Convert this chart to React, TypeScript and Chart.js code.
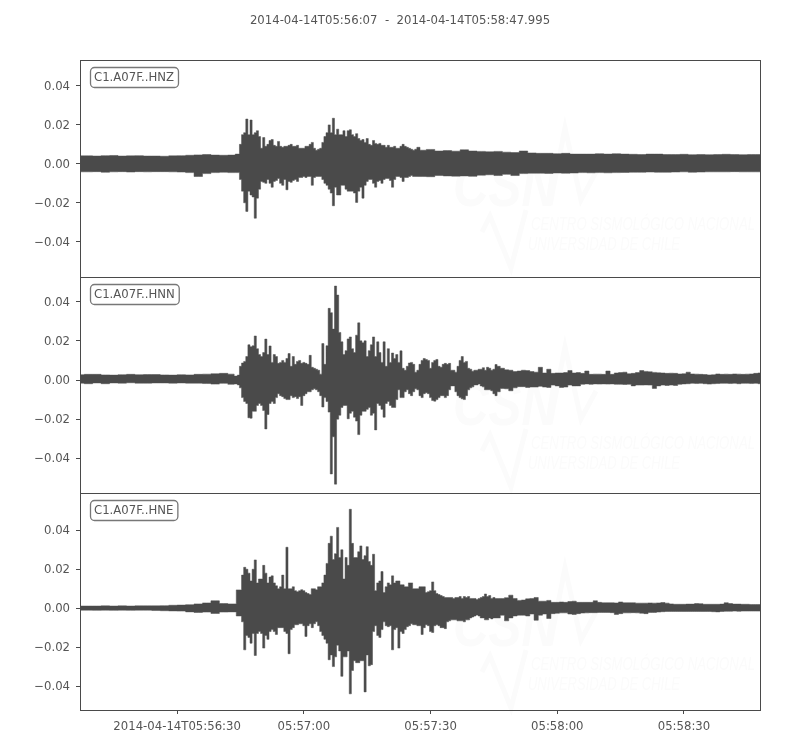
import React, { useEffect, useRef } from "react";
import { Chart, registerables } from "chart.js";

Chart.register(...registerables);

const titleText = "2014-04-14T05:56:07  -  2014-04-14T05:58:47.995";
const stations = ["C1.A07F..HNZ", "C1.A07F..HNN", "C1.A07F..HNE"];
const tickSeconds = [23, 53, 83, 113, 143];
const tickLabels = ["2014-04-14T05:56:30", "05:57:00", "05:57:30", "05:58:00", "05:58:30"];
const yTicks = [-0.04, -0.02, 0, 0.02, 0.04];
const yRanges = [[-0.0579, 0.0533], [-0.0579, 0.0528], [-0.0523, 0.059]];

// Envelope of each trace in thousandths; sections: before, burst (0.5 s bins), after.
const hnzPreUp = [4.1,4.1,4.0,4.2,4.3,4.0,4.1,4.2,4.0,4.0,3.9,4.1,4.2,4.4,4.6,4.8,4.5,4.4,4.5];
const hnzPreLo = [-4.1,-4.1,-4.0,-4.3,-4.1,-4.0,-4.2,-4.0,-4.1,-4.0,-4.0,-4.1,-4.2,-4.5,-6.5,-5,-4.5,-4.3,-4.5];
const hnzBurstUp = [5,10,15,16,23,15,22.5,15,16,17,14,8,13.5,9,10,12,12.5,9.5,9,11.5,9,8.5,9,9,9.5,10,9,9,9.5,8,8,8,9,9,10,11,8,7,7.5,8,11,14,16,20,16,23.4,15,17.8,15,15,17,14,17,17.5,15,14,15.5,13,12,12.5,11,13,10,9.5,12,10.5,10,10.5,9.5,9.5,8.5,9.5,8.5,8.5,9,8,8,9,10,9,8.5,8,7.5,7,7.5,8.5];
const hnzBurstLo = [-4.5,-8,-14,-20,-24.4,-14,-16,-17,-27.9,-17.6,-13,-9,-9.5,-10,-8,-10,-12,-9,-8.5,-7.5,-10,-11,-8,-13.3,-9,-9.5,-8.5,-8,-9,-7,-7,-6.5,-7,-6.5,-6.5,-11,-7,-6.5,-6.5,-6.5,-8,-10,-11,-13,-15,-21.5,-12,-16,-16,-11,-11,-13,-14,-14,-14,-15,-19.8,-14,-12,-17.6,-11,-9,-8,-8,-10,-12,-9,-8.5,-10,-8,-7.5,-7.5,-8.5,-12,-8,-6.5,-6.5,-7,-9,-7,-7,-6.5,-6,-6.5,-6.5,-6.5];
const hnzTailUp = [7.0,7.4,6.6,6.8,6.5,7.2,6.6,6.4,6.2,6.4,6.0,5.8,6.6,5.6,5.4,5.4,5.2,5.4,5.0,5.0,5.0,5.2,5.0,5.2,5.0,4.9,4.8,5.0,5.0,4.8,4.8,4.9,4.7,4.8,4.7,4.8,4.9,4.8,4.7,4.8,4.8];
const hnzTailLo = [-6.5,-6.6,-6.0,-6.2,-6.3,-6.2,-6.4,-5.8,-5.6,-6.0,-5.4,-6.0,-5.0,-4.8,-4.8,-4.9,-4.7,-4.8,-4.7,-4.5,-4.6,-4.5,-4.6,-4.5,-4.4,-4.3,-4.3,-4.2,-4.3,-4.3,-4.2,-4.1,-4.3,-4.2,-4.1,-4.1,-4.1,-4.0,-4.1,-4.1,-4.1];

const hnnPreUp = [2.7,2.9,2.9,2.6,2.5,2.7,2.9,2.7,2.8,2.8,2.6,2.5,2.7,2.6,2.9,3,3.2,3.4,3];
const hnnPreLo = [-1.6,-1.9,-1.5,-1.9,-1.5,-1.6,-1.4,-1.6,-1.6,-1.5,-1.5,-1.6,-1.5,-1.6,-1.6,-1.8,-2.1,-1.7,-2.2];
const hnnBurstUp = [2,2.5,7,8.7,9.5,12,18,17,17.5,22.5,16,13,12,14,20.9,13,17.4,9,13,12,8.5,9,10,9,11,13.5,7,12,8,9.5,10,8.5,9,8.5,8,12.6,6.5,6,5.5,5,3,18.6,8,17.5,36.6,34.4,26,48,43.4,24.3,19.5,13,15,21,22,16,14,22.9,29.2,20,19,20,12,15,18,22,12,19.5,14,9,19.5,7,16,9,13.8,11,13,9,14.9,6,5,7,8.7,9,8,4,5,8,10,11,10.5,10,6,9,10,10.5,7,6.5,8,8.5,8,8.5,5,5,4,7,10,12,9,9.5,6,5.5,4.5,5,5,5.5,5.5,6.3,5,6.5,6,5,5.5,7.9,7];
const hnnBurstLo = [-2,-2.5,-4,-9,-11,-12,-19.3,-19.5,-16,-16,-13,-12,-13,-15.6,-25,-17.6,-12,-11,-12,-9,-7,-8,-8.5,-9.5,-10,-10,-8,-9,-8.5,-9.5,-8.5,-13,-8,-7,-6,-6,-5,-4.5,-5,-6,-8,-13.8,-9,-11,-16.4,-48,-29,-53.2,-20,-18,-14,-13,-13,-19.8,-17,-16,-19,-21,-27.9,-18,-16,-16,-15,-14,-18,-17,-25.5,-12,-13,-15,-19,-12,-11,-13,-14,-14,-10,-5,-9,-9,-6,-5,-7,-8,-6,-4.5,-5,-8,-9,-7,-6.5,-7,-9,-10.5,-10.8,-10,-9,-8,-8,-9,-8,-5,-3,-3,-6,-8,-9,-9.6,-10,-8,-5,-4,-3.5,-2.5,-2.5,-2,-3,-3.5,-5,-5,-5,-5.5,-7,-8,-6];
const hnnTailUp = [6,5.2,5,4.3,4.6,5,4.8,4.3,4,6.5,3.6,5.5,3.4,3.6,3.6,3.8,4.8,3.6,3.8,3.4,4.6,2.9,3,3,2.9,4.6,2.9,3.6,3.8,4,3.2,3.4,3.8,4.8,4.4,4.2,3.9,3.7,3.6,3.4,3.5,3.4,3.1,3.2,4.0,3.1,3,2.9,2.8,2.6,2.7,3.1,2.9,3,2.9,3.1,3,2.9,3,3.1,3.4,3.6];
const hnnTailLo = [-4.3,-4.5,-5.5,-4,-3.4,-3.4,-3.8,-3.6,-3.6,-3.2,-3.6,-3.8,-2.6,-3,-3.8,-3.6,-2.6,-3,-3,-2.2,-2,-2.2,-2,-2.1,-2,-2.1,-2,-2.2,-2.2,-2.3,-2.2,-3,-2.6,-2.6,-2.5,-2.6,-4.3,-3,-2.6,-2.8,-2.6,-2.8,-2.2,-2,-1.9,-1.7,-1.8,-1.7,-1.9,-2.1,-1.9,-1.8,-1.7,-1.7,-1.8,-1.7,-1.9,-1.7,-1.7,-1.8,-1.7,-1.9];

const hnePreUp = [1.1,1.1,1.1,1.2,1.1,1.2,1.1,1.2,1.2,1.2,1.3,1.5,1.6,1.8,2.2,2.7,3.8,2.4,2.2];
const hnePreLo = [-1,-1,-1.1,-1,-1.1,-1,-1.1,-1,-1,-1.2,-1.3,-1.4,-1.5,-1.9,-2.2,-2,-2.7,-2,-1.9];
const hneBurstUp = [9.4,17,21,20,18,14,20,24.8,13,15,15,22,18,13,16,16.6,13,11.5,10,11,17,10,31.3,10,10,11,9,8.5,9,9.5,9,8,7.5,7,10,10,9.5,11,11,13,17,23,33.3,37,25,28,41.5,26,30,15,26,22,50.8,33.3,26,26,29,32,25,27,31.6,24,22,27.7,9,13,14,18.8,8,11,13,12,16.6,13,14,14,12,12,11,11,13,13,10,10,10,11,11,11,8,8.5,9,13.5,9,7.5,7,6.5,6,5.5,5.5,5.5,5.5,5,5.5,5.5,6,5,6,5.5,6,5,5,5,4.5,5,5.5,6,7.3,6,6.5,5,5.5,5,5];
const hneBurstLo = [-4,-7,-21.4,-14,-15,-18,-13,-24.3,-13,-12,-13,-20.5,-14,-16,-12,-11,-12,-13.5,-10,-10,-10,-12,-13,-23.4,-11,-10,-8.5,-8.5,-8,-8,-9,-14.5,-9,-8,-10,-8,-7,-9,-12,-14,-16,-18,-26.5,-24,-30,-25,-19,-22,-35,-25,-25,-22,-44,-32,-27,-28,-28,-27,-27,-43,-24,-29.6,-29,-12,-9,-14,-15,-11,-7,-9,-9.5,-9,-21.4,-11,-10,-20.5,-12,-13,-11,-9.5,-9,-8,-8.5,-8.5,-9,-9,-13.5,-10,-8.5,-9,-12,-12.5,-9,-8.5,-9,-10,-10,-10.5,-7,-6.5,-6,-6,-6,-6.5,-6.5,-6.5,-7,-6,-6,-5,-4.5,-4,-3.5,-4,-5,-5,-6,-6,-5,-5.5,-5,-5,-5];
const hneTailUp = [5,5.4,6.7,5,4,4.2,4.8,5,5.5,3.6,3.6,4,3,3,3.2,3,3.4,3.6,3,3,3,3,3.8,3,2.8,2.8,2.8,2.7,3.2,2.8,2.8,2.8,2.6,2.6,2.6,2.7,2.6,2.7,2.9,2.6,2.2,2,2,2,2.1,2.1,2.4,2.3,2,2,2,2,2.1,2.8,2.4,2.1,2.1,2,2,1.9,1.9,1.9];
const hneTailLo = [-3.6,-6.5,-5,-4,-3.6,-3.6,-4,-3,-6.2,-3.6,-3,-5.3,-2.8,-2.6,-2.4,-2.4,-3,-3.2,-2.8,-2.5,-2.4,-2.3,-2.3,-2.2,-2.2,-2.2,-2.3,-3.2,-2.8,-2.4,-2.4,-2.3,-2.4,-2.6,-2.8,-2.2,-2.2,-2,-1.8,-1.7,-1.7,-1.7,-1.7,-1.7,-1.7,-1.7,-1.7,-1.7,-1.7,-1.7,-1.8,-1.9,-1.7,-1.6,-1.6,-1.5,-1.6,-1.5,-1.5,-1.5,-1.5,-1.5];

const traceColor = "#4a4a4a";
const textColor = "#555555";
const frameColor = "#4a4a4a";
const watermarkColor = "#fbfbfb";
const fontSize = 11.7;

function toPoints(sections: [number, number, number[]][]) {
  const out: { x: number; y: number }[] = [];
  for (const [start, step, values] of sections) {
    values.forEach((v, i) => out.push({ x: start + i * step, y: v / 1000 }));
  }
  return out;
}

function traceDatasets(yAxisID: string, up: { x: number; y: number }[], lo: { x: number; y: number }[]) {
  const base = {
    yAxisID,
    borderColor: traceColor,
    backgroundColor: traceColor,
    borderWidth: 0.5,
    pointRadius: 0,
    stepped: "middle" as const,
  };
  return [
    { ...base, data: up, fill: "+1" },
    { ...base, data: lo, fill: false },
  ];
}

const watermarkPlugin = {
  id: "watermark",
  beforeDatasetsDraw(chart: any) {
    const { ctx } = chart;
    ctx.save();
    ctx.fillStyle = watermarkColor;
    ctx.strokeStyle = watermarkColor;
    [0, 219, 440].forEach((dy) => {
      ctx.textBaseline = "alphabetic";
      ctx.textAlign = "left";
      ctx.font = "italic bold 62px 'Liberation Sans'";
      ctx.fillText("CSN", 453, 206 + dy, 104);
      ctx.font = "italic 19px 'Liberation Sans'";
      ctx.fillText("CENTRO SISMOLÓGICO NACIONAL", 531, 230 + dy, 224);
      ctx.fillText("UNIVERSIDAD DE CHILE", 528, 250 + dy, 152);
      ctx.lineWidth = 5;
      ctx.beginPath();
      ctx.moveTo(550, 205 + dy);
      ctx.lineTo(565, 128 + dy);
      ctx.lineTo(581, 200 + dy);
      ctx.lineTo(596, 172 + dy);
      ctx.stroke();
      ctx.beginPath();
      ctx.moveTo(482, 232 + dy);
      ctx.lineTo(490, 216 + dy);
      ctx.lineTo(511, 268 + dy);
      ctx.lineTo(526, 210 + dy);
      ctx.stroke();
    });
    ctx.restore();
  },
};

const framePlugin = {
  id: "frames",
  afterDatasetsDraw(chart: any) {
    const { ctx, chartArea } = chart;
    ctx.save();
    ctx.font = `${fontSize}px 'DejaVu Sans'`;
    ctx.fillStyle = textColor;
    ctx.textAlign = "center";
    ctx.textBaseline = "middle";
    ctx.fillText(titleText, 400, 21);
    stations.forEach((name, i) => {
      const s = chart.scales["y" + i];
      const top = Math.round(s.top);
      const bottom = Math.round(s.bottom);
      ctx.strokeStyle = frameColor;
      ctx.lineWidth = 1;
      ctx.strokeRect(chartArea.left + 0.5, top + 0.5, chartArea.width, bottom - top);
      const x = chartArea.left + 10;
      const y = top + 7;
      const w = ctx.measureText(name).width + 8;
      ctx.beginPath();
      ctx.roundRect(x + 0.5, y + 0.5, w, 20, 4);
      ctx.fillStyle = "#ffffff";
      ctx.fill();
      ctx.strokeStyle = "#777777";
      ctx.lineWidth = 1.3;
      ctx.stroke();
      ctx.fillStyle = textColor;
      ctx.textAlign = "left";
      ctx.textBaseline = "middle";
      ctx.fillText(name, x + 4, y + 10.5);
    });
    ctx.restore();
  },
};

export default function App() {
  const ref = useRef<HTMLCanvasElement>(null);
  useEffect(() => {
    if (!ref.current) return;
    const font = { family: "'DejaVu Sans'", size: fontSize };
    const yScale = (i: number) => ({
      type: "linear" as const,
      position: "left" as const,
      stack: "traces",
      stackWeight: 1,
      min: yRanges[i][0],
      max: yRanges[i][1],
      afterBuildTicks: (s: any) => {
        s.ticks = yTicks.map((value) => ({ value }));
      },
      afterFit: (s: any) => {
        s.width = 80;
      },
      grid: { drawOnChartArea: false, drawTicks: true, tickLength: 4, color: frameColor },
      border: { display: false },
      ticks: {
        color: textColor,
        font,
        padding: 6,
        labelOffset: 1,
        callback: (v: any) => (Number(v) === 0 ? "0.00" : Number(v).toFixed(2).replace("-", "\u2212")),
      },
    });
    const chart = new Chart(ref.current, {
      type: "line",
      data: {
        datasets: [
          ...traceDatasets(
            "y0",
            toPoints([[0, 2, hnzPreUp], [37.5, 0.5, hnzBurstUp], [81, 2, hnzTailUp]]),
            toPoints([[0, 2, hnzPreLo], [37.5, 0.5, hnzBurstLo], [81, 2, hnzTailLo]])
          ),
          ...traceDatasets(
            "y1",
            toPoints([[0, 2, hnnPreUp], [37, 0.5, hnnBurstUp], [100, 1, hnnTailUp]]),
            toPoints([[0, 2, hnnPreLo], [37, 0.5, hnnBurstLo], [100, 1, hnnTailLo]])
          ),
          ...traceDatasets(
            "y2",
            toPoints([[0, 2, hnePreUp], [38, 0.5, hneBurstUp], [100, 1, hneTailUp]]),
            toPoints([[0, 2, hnePreLo], [38, 0.5, hneBurstLo], [100, 1, hneTailLo]])
          ),
        ] as any,
      },
      options: {
        responsive: false,
        animation: false,
        layout: { padding: { left: 0, right: 40, top: 60, bottom: 0 } },
        plugins: {
          legend: { display: false },
          tooltip: { enabled: false },
        },
        scales: {
          x: {
            type: "linear",
            min: 0,
            max: 160.995,
            afterBuildTicks: (s: any) => {
              s.ticks = tickSeconds.map((value) => ({ value }));
            },
            afterFit: (s: any) => {
              s.height = 40;
            },
            grid: { drawOnChartArea: false, drawTicks: true, tickLength: 4, color: frameColor },
            border: { display: false },
            ticks: {
              color: textColor,
              font,
              padding: 6,
              maxRotation: 0,
              autoSkip: false,
              callback: (v: any) => tickLabels[tickSeconds.indexOf(Number(v))],
            },
          },
          y2: yScale(2),
          y1: yScale(1),
          y0: yScale(0),
        } as any,
      },
      plugins: [watermarkPlugin, framePlugin],
    });
    return () => chart.destroy();
  }, []);
  return (
    <div style={{ position: "fixed", left: 0, top: 0, width: 800, height: 750, background: "#fff" }}>
      <canvas ref={ref} width={800} height={750} style={{ display: "block" }} />
    </div>
  );
}
